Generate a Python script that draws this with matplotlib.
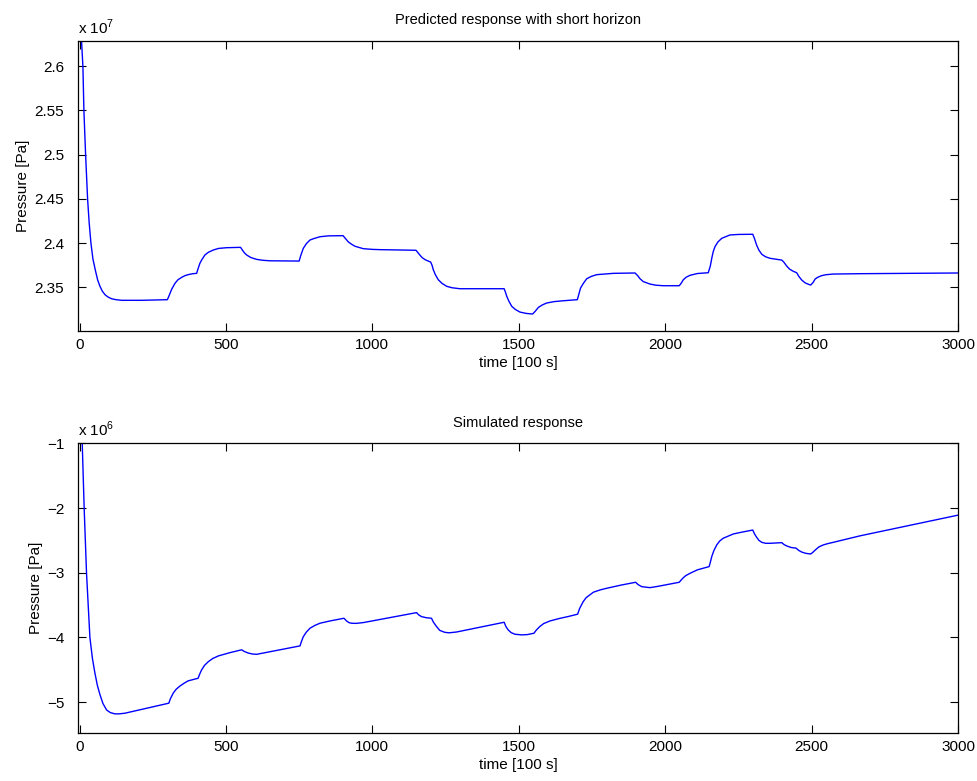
import numpy as np
import matplotlib
matplotlib.use('Agg')
import matplotlib.pyplot as plt
from matplotlib.ticker import FuncFormatter

plt.rcParams['font.family'] = ['Liberation Sans', 'DejaVu Sans']
plt.rcParams['mathtext.fontset'] = 'custom'
plt.rcParams['mathtext.rm'] = 'Liberation Sans'

## Predicted response, pressure in units of 1e7 Pa
t_pred = [0, 7, 11.6, 15, 20.8, 27.6, 33, 39, 46, 55, 62, 70, 78, 87, 97, 110, 125, 144, 212, 300,
          304, 309, 315, 326, 336, 349, 360, 371, 385, 400,
          404, 411, 418, 428, 440, 457, 475, 502, 550,
          556, 563, 571, 585, 605, 625, 650, 750,
          755, 764, 775, 787, 800, 821, 850, 900,
          906, 918, 930, 941, 969, 1000, 1026, 1149,
          1156, 1163, 1170, 1180, 1190, 1199,
          1204, 1208, 1215, 1225, 1238, 1254, 1272, 1299, 1450,
          1454, 1459, 1466, 1476, 1488, 1504, 1525, 1547,
          1556, 1567, 1580, 1595, 1620, 1652, 1700,
          1705, 1711, 1720, 1732, 1748, 1766, 1823, 1897,
          1906, 1914, 1925, 1948, 1968, 1993, 2048,
          2055, 2062, 2072, 2085, 2110, 2147,
          2154, 2159, 2164, 2170, 2180, 2193, 2221, 2250, 2299,
          2305, 2312, 2320, 2330, 2343, 2358, 2398,
          2405, 2415, 2425, 2438, 2449,
          2456, 2466, 2478, 2490, 2497,
          2505, 2512, 2520, 2534, 2550, 2574, 2665, 3000]
p_pred = [2.68, 2.628, 2.600, 2.550, 2.500, 2.450, 2.423, 2.400, 2.3817, 2.368, 2.3583, 2.351, 2.3456, 2.3417, 2.3391, 2.337, 2.336, 2.3353, 2.3353, 2.336,
          2.339, 2.3432, 2.348, 2.3545, 2.3585, 2.3613, 2.3632, 2.3643, 2.3653, 2.3658,
          2.3702, 2.3771, 2.3814, 2.3865, 2.3896, 2.3922, 2.3940, 2.3948, 2.3952,
          2.3922, 2.3890, 2.3865, 2.3837, 2.3816, 2.3806, 2.3800, 2.3797,
          2.3854, 2.394, 2.3995, 2.4035, 2.4051, 2.4072, 2.4082, 2.4084,
          2.4060, 2.4013, 2.3985, 2.3964, 2.3937, 2.3929, 2.3926, 2.3919,
          2.3890, 2.3862, 2.3836, 2.3813, 2.3798, 2.3786,
          2.3748, 2.370, 2.3644, 2.3586, 2.3544, 2.3511, 2.3495, 2.3484, 2.3484,
          2.3450, 2.3398, 2.3345, 2.3285, 2.3250, 2.322, 2.3205, 2.3198,
          2.3228, 2.3273, 2.3300, 2.3322, 2.3338, 2.3348, 2.336,
          2.3420, 2.3492, 2.3542, 2.3597, 2.3624, 2.3643, 2.3658, 2.3662,
          2.3632, 2.3597, 2.3565, 2.3537, 2.3524, 2.3518, 2.3518,
          2.3548, 2.3586, 2.3615, 2.3636, 2.3656, 2.3665,
          2.3740, 2.3828, 2.3904, 2.396, 2.4013, 2.4054, 2.4092, 2.4098, 2.410,
          2.4050, 2.3979, 2.3920, 2.3873, 2.3845, 2.3828, 2.3808,
          2.3785, 2.374, 2.3705, 2.3680, 2.3665,
          2.3625, 2.3583, 2.3550, 2.3533, 2.3526,
          2.3555, 2.3594, 2.3612, 2.3632, 2.3643, 2.365, 2.3654, 2.3662]

## Simulated response, pressure in units of 1e6 Pa
t_sim = [0, 9.3, 16, 24, 35.5, 44, 52.6, 61, 70, 80, 92.5, 105, 121, 135, 155, 305,
         310, 320, 330, 343, 356, 371, 388, 405,
         410, 417, 427, 440, 455, 474, 494, 514, 534, 554,
         562, 576, 590, 605, 753,
         758, 764, 774, 787, 803, 821, 838, 855, 878, 903,
         912, 920, 929, 945, 969, 1151,
         1158, 1168, 1185, 1202,
         1208, 1219, 1230, 1247, 1262, 1288, 1450,
         1456, 1464, 1474, 1487, 1510, 1530, 1552,
         1560, 1572, 1585, 1607, 1640, 1670, 1701,
         1708, 1720, 1730, 1755, 1778, 1800, 1850, 1899,
         1908, 1920, 1948, 1975, 2010, 2048,
         2054, 2062, 2070, 2085, 2110, 2150,
         2154, 2159, 2166, 2176, 2186, 2198, 2233, 2265, 2299,
         2305, 2312, 2320, 2330, 2343, 2358, 2398,
         2406, 2415, 2430, 2447,
         2456, 2466, 2480, 2497,
         2504, 2512, 2525, 2540, 2555, 2574, 2610, 2665, 3000]
p_sim = [0.4, -1.01, -2.015, -3.01, -4.0, -4.32, -4.55, -4.74, -4.885, -5.02, -5.12, -5.16, -5.18, -5.18, -5.17, -5.015,
         -4.95, -4.86, -4.80, -4.75, -4.71, -4.67, -4.65, -4.63,
         -4.57, -4.50, -4.43, -4.373, -4.325, -4.285, -4.26, -4.234, -4.212, -4.19,
         -4.215, -4.24, -4.255, -4.26, -4.13,
         -4.06, -3.99, -3.92, -3.857, -3.815, -3.78, -3.762, -3.745, -3.725, -3.703,
         -3.745, -3.77, -3.78, -3.782, -3.77, -3.616,
         -3.65, -3.678, -3.695, -3.703,
         -3.76, -3.83, -3.89, -3.92, -3.928, -3.915, -3.765,
         -3.83, -3.884, -3.925, -3.95, -3.96, -3.955, -3.934,
         -3.885, -3.83, -3.785, -3.744, -3.705, -3.675, -3.64,
         -3.55, -3.446, -3.385, -3.30, -3.265, -3.24, -3.19, -3.147,
         -3.185, -3.215, -3.23, -3.21, -3.18, -3.147,
         -3.115, -3.076, -3.045, -3.008, -2.955, -2.905,
         -2.84, -2.75, -2.66, -2.57, -2.51, -2.467, -2.40, -2.37, -2.34,
         -2.40, -2.45, -2.50, -2.53, -2.545, -2.545, -2.535,
         -2.565, -2.586, -2.61, -2.62,
         -2.655, -2.68, -2.70, -2.71,
         -2.685, -2.65, -2.60, -2.57, -2.55, -2.53, -2.49, -2.43, -2.11]

x_ticks = [0, 500, 1000, 1500, 2000, 2500, 3000]

fig = plt.figure(figsize=(9.78, 7.81), dpi=100)
ax1 = fig.add_axes([0.0798, 0.5762, 0.8998, 0.3713])
ax2 = fig.add_axes([0.0798, 0.0611, 0.8998, 0.3713])


def style(ax, scale, expo, ttl):
    ax.set_xlim(-5, 3000)
    ax.set_xticks(x_ticks)
    ax.tick_params(direction='in', top=True, right=True, length=6, width=0.8,
                   labelsize=11)
    ax.tick_params(axis='x', pad=5)
    ax.tick_params(axis='y', pad=10)
    ax.yaxis.set_major_formatter(FuncFormatter(lambda v, pos: ('%g' % round(v / scale, 6)).replace('-', '\u2212')))
    for s in ax.spines.values():
        s.set_linewidth(0.9)
    ax.set_xlabel('time [100 s]', fontsize=11, labelpad=3)
    ax.set_ylabel('Pressure [Pa]', fontsize=11, labelpad=3)
    ax.set_title(ttl, fontsize=10.5, pad=12)
    ax.text(0, 1.015, r'x 10$^{%d}$' % expo, transform=ax.transAxes,
            ha='left', va='bottom', fontsize=11)


# Top: prediction over short horizon
ax1.plot(t_pred, np.array(p_pred) * 1e7, color='blue', lw=1.0)
ax1.set_ylim(2.3006e7, 2.6286e7)
ax1.set_yticks(np.array([2.35, 2.4, 2.45, 2.5, 2.55, 2.6]) * 1e7)
style(ax1, 1e7, 7, 'Predicted response with short horizon')

# Bottom: simulated response
ax2.plot(t_sim, np.array(p_sim) * 1e6, color='blue', lw=1.0)
ax2.set_ylim(-5.48e6, -1.0e6)
ax2.set_yticks(np.array([-5, -4, -3, -2, -1]) * 1e6)
style(ax2, 1e6, 6, 'Simulated response')

fig.savefig('out.png', dpi=100)
